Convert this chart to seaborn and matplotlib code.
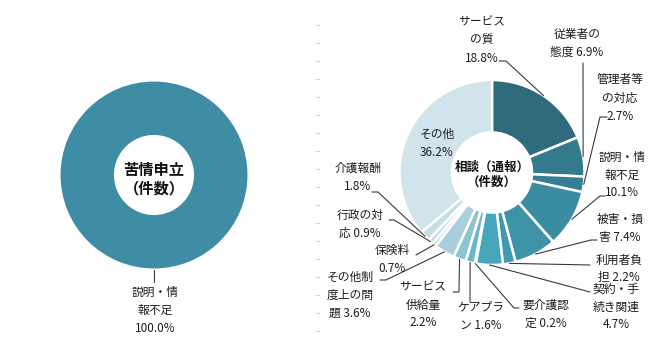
import numpy as np
import pandas as pd
import seaborn as sns
import matplotlib
matplotlib.use("Agg")
import matplotlib.pyplot as plt

# ---------------- data ----------------
right_categories = ["サービス\nの質", "従業者の\n態度", "管理者等\nの対応", "説明・情\n報不足", "被害・損\n害",
                    "利用者負\n担", "契約・手\n続き関連", "要介護認\n定", "ケアプラ\nン", "サービス\n供給量",
                    "その他制\n度上の問\n題", "保険料", "行政の対\n応", "介護報酬", "その他"]
right_values = [18.8, 6.9, 2.7, 10.1, 7.4, 2.2, 4.7, 0.2, 1.6, 2.2, 3.6, 0.7, 0.9, 1.8, 36.2]
right_pct_sep = ["\n", " ", "\n", "\n", " ", " ", "\n", " ", " ", "\n", " ", "\n", " ", "\n", "\n"]
left_categories = ["説明・情\n報不足"]
left_values = [100.0]
left_title = "苦情申立\n（件数）"
right_title = "相談（通報）\n（件数）"

# ---------------- style ----------------
sns.set_theme(style="white")
plt.rcParams['font.family'] = ['Noto Sans CJK JP', 'DejaVu Sans']

right_colors = ["#2e6c7d", "#337a8c", "#367f92", "#3b8ba1", "#3f93a9", "#4399ae", "#47a5bc", "#4aa9bf",
                "#6cb6c9", "#8cc4d3", "#a9cfdc", "#bcd9e3", "#c2dce5", "#c6dfe7", "#d1e4eb"]
left_colors = ["#3f8da4"]

W, H = 671, 343
fig = plt.figure(figsize=(W / 100, H / 100), dpi=100)
ax = fig.add_axes([0, 0, 1, 1])

def Y(y):
    return H - y

# donut geometry (pixel coordinates, image y downwards)
L_C, L_R, L_RIN = (154, 175), 94.5, 39
R_C, R_R, R_RIN = (492, 172.5), 92.5, 40

ax.pie(left_values, colors=left_colors, startangle=90, counterclock=False,
       radius=L_R, center=(L_C[0], Y(L_C[1])),
       wedgeprops=dict(width=L_R - L_RIN, edgecolor="white", linewidth=1.5))
ax.pie(right_values, colors=right_colors, startangle=90, counterclock=False,
       radius=R_R, center=(R_C[0], Y(R_C[1])),
       wedgeprops=dict(width=R_R - R_RIN, edgecolor="white", linewidth=1.8))

ax.set_xlim(0, W)
ax.set_ylim(0, H)
ax.set_aspect("equal")
ax.axis("off")

def mid_points(values, center, radius):
    vals = np.asarray(values, dtype=float)
    cum = np.cumsum(vals) - vals / 2
    theta = np.deg2rad(360 * cum / vals.sum())
    xs = center[0] + radius * np.sin(theta)
    ys = Y(center[1]) + radius * np.cos(theta)
    return xs, ys

txt_kw = dict(fontsize=8.5, color="#1e1e1e", ha="center", va="center",
              multialignment="center", linespacing=1.5)
line_kw = dict(color="#3a3a3a", lw=0.8)

# label layout: block center and leader path (from text side), image coordinates
right_label_pos = [(482, 40), (577, 43), (620, 98), (622, 175), (620, 228.5), (619, 269), (616, 307),
                   (546, 314), (481, 316), (423, 305), (350, 295), (392, 259), (360, 224), (358, 177.5),
                   (437, 143.5)]
right_leaders = [[(499, 61), (506, 61)], [(583, 63)], [(607, 117), (600, 117)], [(605, 196), (600, 196)],
                 [(597, 240), (591, 240)], [(590, 265)], [(590, 292)], [(519, 308), (514, 308)],
                 [(470, 302)], [(453, 292), (459, 292)], [(380, 280), (386, 280)], [(416, 255)],
                 [(389, 220), (394, 220)], [(372, 192), (378, 192)], None]

mx, my = mid_points(right_values, R_C, R_R)
for i, (cat, v) in enumerate(zip(right_categories, right_values)):
    px, py = right_label_pos[i]
    ax.text(px, Y(py), f"{cat}{right_pct_sep[i]}{v:.1f}%", **txt_kw)
    if right_leaders[i] is not None:
        pts = [(x, Y(y)) for x, y in right_leaders[i]] + [(mx[i], my[i])]
        ax.plot([p[0] for p in pts], [p[1] for p in pts], **line_kw)

lmx, lmy = mid_points(left_values, L_C, L_R)
ax.text(155, Y(310), f"{left_categories[0]}\n{left_values[0]:.1f}%", **txt_kw)
ax.plot([lmx[0], 154], [lmy[0], Y(282)], **line_kw)

# center titles
ax.text(L_C[0], Y(179), left_title, fontsize=11, fontweight="bold", color="#111111",
        ha="center", va="center", multialignment="center", linespacing=1.2)
ax.text(R_C[0], Y(175), right_title, fontsize=9, fontweight="bold", color="#111111",
        ha="center", va="center", multialignment="center", linespacing=1.2)

# faint separator ticks
sep_y = np.arange(25, 335, 18)
ax.plot(np.full(len(sep_y), 318), Y(sep_y), ls="none", marker="_", ms=3, mew=0.8, color="#cfcfcf")

fig.savefig("out.png", dpi=100)
